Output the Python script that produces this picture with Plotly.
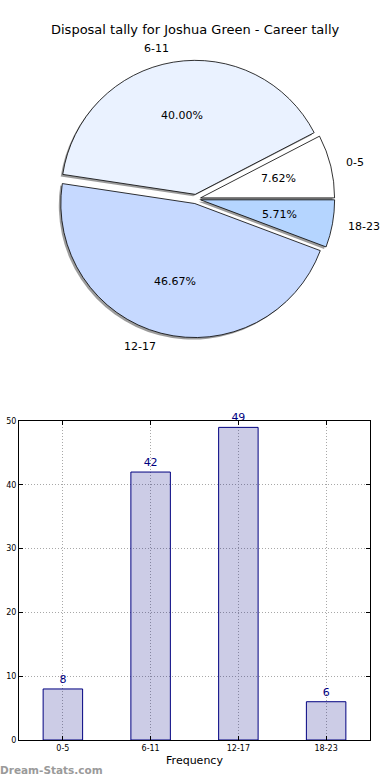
import math
import plotly.graph_objects as go

categories = ["0-5", "6-11", "12-17", "18-23"]
counts = [8, 42, 49, 6]
pie_colors = ["#ffffff", "#eaf2ff", "#c6d9ff", "#b5d5ff"]
pulls = [0.035, 0.035, 0.035, 0.035]
title_text = "Disposal tally for Joshua Green - Career tally"
y_ticks = [0, 10, 20, 30, 40, 50]

W, H = 390, 780
FONT = "DejaVu Sans"

# pie geometry in pixels (center, box)
cx, cy, box = 196, 199, 277.4
r_px = box / (2 + 2 * max(pulls))
total = sum(counts)
# plotly: counterclockwise pies end the first slice at `rotation`; start 0-5 at 3 o'clock
rotation = 90 - 360 * counts[0] / total


def dom(cxp, cyp):
    return dict(x=[(cxp - box / 2) / W, (cxp + box / 2) / W],
                y=[(H - cyp - box / 2) / H, (H - cyp + box / 2) / H])


fig = go.Figure()

# shadow
fig.add_trace(go.Pie(
    labels=categories, values=counts, sort=False, direction="counterclockwise",
    rotation=rotation, pull=pulls, domain=dom(cx - 2, cy + 2),
    marker=dict(colors=["rgba(90,90,90,0.6)"] * 4, line=dict(width=0)),
    textinfo="none", hoverinfo="skip", showlegend=False,
))
# main slices
fig.add_trace(go.Pie(
    labels=categories, values=counts, sort=False, direction="counterclockwise",
    rotation=rotation, pull=pulls, domain=dom(cx, cy),
    marker=dict(colors=pie_colors, line=dict(color="black", width=0.8)),
    textinfo="none", showlegend=False,
))

# percentage and label text placed like the original (0.6 r and 1.1 r at mid-angle)
annotations = []
cum = 0
for lab, v, p in zip(categories, counts, pulls):
    theta = math.radians(360 * (cum + v / 2) / total)
    cum += v
    c, s = math.cos(theta), math.sin(theta)
    px = cx + (p + 0.6) * r_px * c
    py = cy - (p + 0.6) * r_px * s
    annotations.append(dict(text=f"{100 * v / total:.2f}%", x=px / W, y=1 - py / H,
                            xref="paper", yref="paper", xanchor="center", yanchor="middle",
                            showarrow=False, font=dict(family=FONT, size=11, color="black")))
    lx = cx + (p + 1.1) * r_px * c
    ly = cy - (p + 1.1) * r_px * s
    annotations.append(dict(text=lab, x=lx / W, y=1 - ly / H,
                            xref="paper", yref="paper",
                            xanchor="left" if c > 0 else "right", yanchor="middle",
                            showarrow=False, font=dict(family=FONT, size=11, color="black")))

annotations.append(dict(text=title_text, x=0.5, y=1 - 30 / H, xref="paper", yref="paper",
                        xanchor="center", yanchor="middle", showarrow=False,
                        font=dict(family=FONT, size=13, color="black")))
annotations.append(dict(text="<b>Dream-Stats.com</b>", x=-2 / W, y=10 / H,
                        xref="paper", yref="paper", xanchor="left", yanchor="middle",
                        showarrow=False, font=dict(family=FONT, size=10.5, color="#9a9a9a")))

# bar chart
fig.add_trace(go.Bar(
    x=categories, y=counts, width=0.45,
    marker=dict(color="rgba(0,0,128,0.2)", line=dict(color="#000080", width=1)),
    text=[str(c) for c in counts], textposition="outside",
    textfont=dict(family=FONT, size=11, color="#000080"),
    constraintext="none", cliponaxis=False, showlegend=False,
))

grid = dict(showgrid=True, gridcolor="#a8a8a8", griddash="1px,2px", gridwidth=1)
fig.update_layout(
    width=W, height=H, margin=dict(l=0, r=0, t=0, b=0, autoexpand=False),
    paper_bgcolor="white", plot_bgcolor="white",
    font=dict(family=FONT, color="black"),
    xaxis=dict(domain=[19 / W, 370 / W], range=[-0.5, 3.5], type="category",
               automargin=False,
               showline=True, linecolor="black", linewidth=1, mirror="ticks",
               ticks="inside", ticklen=4, tickcolor="black",
               tickfont=dict(family=FONT, size=8),
               title=dict(text="Frequency", font=dict(family=FONT, size=11), standoff=4),
               **grid),
    yaxis=dict(domain=[40 / H, 359 / H], range=[0, 50], tickvals=y_ticks,
               automargin=False,
               showline=True, linecolor="black", linewidth=1, mirror="ticks",
               ticks="inside", ticklen=4, tickcolor="black",
               zeroline=False, tickfont=dict(family=FONT, size=8), **grid),
    annotations=annotations,
)

fig.write_html("out.html", config={"displayModeBar": False},
               post_script="document.body.style.margin='0';document.body.style.overflow='hidden';")
